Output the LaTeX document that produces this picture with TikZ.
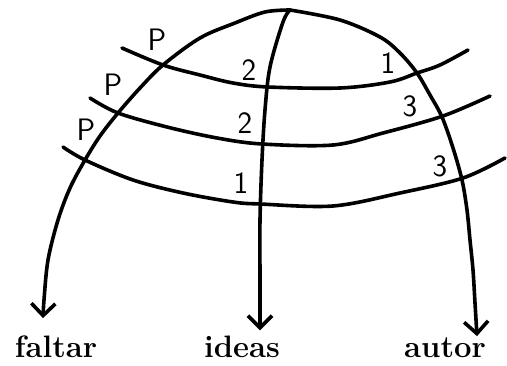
\documentclass[tikz,border=0pt]{standalone}
\usepackage{fontspec}
\usepackage{tikz}
\usetikzlibrary{arrows.meta, positioning, calc}

\begin{document}
\begin{tikzpicture}[x=1pt, y=-1pt,
    curve/.style={line width=3.6pt, line cap=round, line join=round},
    meridian/.style={curve, -{Straight Barb[length=12pt, width=24pt]}},
    sign/.style={font=\sffamily\fontsize{31}{34}\selectfont, inner sep=0pt},
    word/.style={font=\fontsize{31}{34}\selectfont\bfseries\addfontfeature{LetterSpace=12}, inner sep=0pt, anchor=base}]
    \useasboundingbox (0,0) rectangle (507,366);

    % Nodes
    \coordinate (top) at (290,10);
    \node (faltar) [word] at (56,358) {faltar};
    \node (ideas) [word] at (242,358) {ideas};
    \node (autor) [word] at (445,358) {autor};

    % Parallels
    \draw[curve] plot[smooth, tension=0.55] coordinates {(122,48) (163,65) (200,75) (233,83) (268,87) (340,88) (390,82) (417,73) (440,65) (468,50)};
    \draw[curve] plot[smooth, tension=0.55] coordinates {(90,98) (118,113) (167,127) (217,138) (262,144) (333,145) (383,133) (443,116) (490,96)};
    \draw[curve] plot[smooth, tension=0.55] coordinates {(63,147) (85,160) (133,180) (183,193) (233,202) (260,204) (333,206) (400,193) (463,178) (505,158)};

    % Meridians
    \draw[meridian] plot[smooth, tension=0.55] coordinates {(top) (265,12) (235,23) (200,38) (163,65) (140,88) (118,113) (100,136) (85,160) (70,188) (58,220) (48,260) (44,300) ([xshift=-13pt, yshift=18pt]faltar.north)};
    \draw[meridian] plot[smooth, tension=0.55] coordinates {(top) (283,22) (270,67) (265,110) (262,160) (260,220) (260,280) ([xshift=18pt, yshift=6pt]ideas.north)};
    \draw[meridian] plot[smooth, tension=0.55] coordinates {(top) (340,20) (380,37) (400,53) (417,73) (430,95) (442,117) (453,148) (462,180) (467,210) (470,240) (473,270) (475,303) ([xshift=32pt, yshift=2pt]autor.north)};

    % Labels
    \node (p1) [sign] at (157,40) {P};
    \node (p2) [sign] at (113,85) {P};
    \node (p3) [sign] at (86,130) {P};
    \node (a1) [sign] at (249,70) {2};
    \node (a2) [sign] at (245,123) {2};
    \node (a3) [sign] at (241,183) {1};
    \node (b1) [sign] at (388,63) {1};
    \node (b2) [sign] at (410,106) {3};
    \node (b3) [sign] at (440,166) {3};
\end{tikzpicture}
\end{document}
